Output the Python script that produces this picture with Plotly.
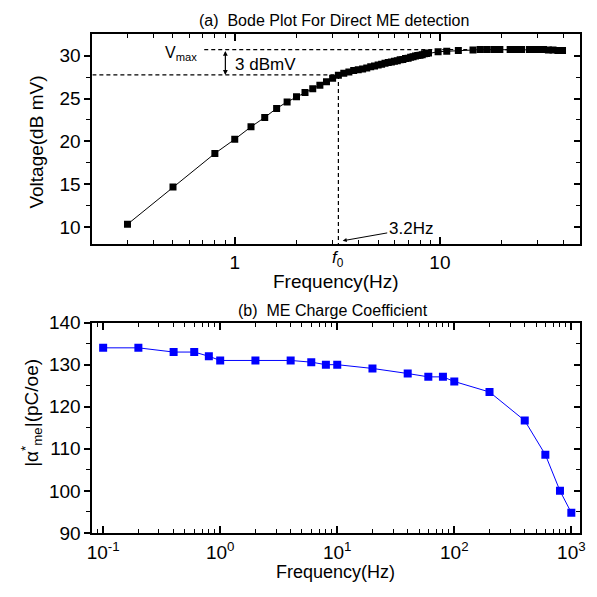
import math
import plotly.graph_objects as go

W = H = 597

# ---------------- data ----------------
# (a) Bode plot for direct ME detection
freq_a = [0.3, 0.5, 0.8, 1.0, 1.2, 1.4, 1.6, 1.8, 2.0, 2.2, 2.4, 2.6, 2.8, 3.0,
          3.2, 3.4, 3.6, 3.8, 4.0, 4.2, 4.4, 4.6, 4.8, 5.0, 5.2, 5.4, 5.6, 5.8,
          6.0, 6.2, 6.4, 6.6, 6.8, 7.0, 7.2, 7.4, 7.6, 7.8, 8.0, 8.2, 8.4, 8.6,
          8.8, 9.8, 10.8, 12.3, 14.5, 15.7, 16.9, 18.3, 19.6, 22, 23, 24, 25,
          27.3, 28.8, 30.4, 32, 33.8, 35.6, 37.6, 39.6]
volt_a = [10.35, 14.7, 18.6, 20.25, 21.7, 22.8, 23.85, 24.6, 25.2, 25.7, 26.15,
          26.55, 26.95, 27.35, 27.7, 27.95, 28.1, 28.25, 28.35, 28.45, 28.55,
          28.7, 28.8, 28.9, 29.0, 29.1, 29.2, 29.25, 29.35, 29.4, 29.5, 29.55,
          29.65, 29.7, 29.8, 29.85, 29.95, 30.0, 30.05, 30.1, 30.2, 30.25, 30.3,
          30.45, 30.5, 30.6, 30.65, 30.7, 30.7, 30.7, 30.7, 30.7, 30.7, 30.7,
          30.7, 30.7, 30.7, 30.7, 30.7, 30.65, 30.65, 30.6, 30.6]

v_max = 30.7          # dashed Vmax level
v_3db = 27.75         # Vmax - 3 dB level
f0 = 3.2              # corner frequency (Hz)
vmax_line_from = 0.71 # where Vmax dashed line starts (Hz)
dbl_arrow_f = 0.9     # frequency of the 3 dBmV double arrow

# (b) ME charge coefficient
freq_b = [0.1, 0.2, 0.4, 0.6, 0.8, 1, 2, 4, 6, 8, 10, 20, 40, 60, 80, 100,
          200, 400, 600, 800, 1000]
alpha_b = [134.0, 134.0, 133.0, 133.0, 132.0, 131.0, 131.0, 131.0, 130.6,
           130.0, 130.0, 129.1, 127.9, 127.1, 127.1, 126.0, 123.5, 116.7,
           108.6, 100.0, 94.8]

ticks_a_x = [1, 10]
ticks_a_x_text = ["1", "10"]
minor_a_x = [0.3, 0.4, 0.5, 0.6, 0.7, 0.8, 0.9, 2, 3, 4, 5, 6, 7, 8, 9, 20, 30, 40]
ticks_a_y = [10, 15, 20, 25, 30]
minor_a_y = [12.5, 17.5, 22.5, 27.5]

ticks_b_x = [0.1, 1, 10, 100, 1000]
ticks_b_x_text = ["10<sup>-1</sup>", "10<sup>0</sup>", "10<sup>1</sup>",
                  "10<sup>2</sup>", "10<sup>3</sup>"]
minor_b_x = [0.09] + [m * d for d in (0.1, 1, 10, 100) for m in range(2, 10)]
ticks_b_y = [90, 100, 110, 120, 130, 140]
minor_b_y = [95, 105, 115, 125, 135]

# ---------------- layout helpers ----------------
def fx(p):
    return p / W

def fy(p):
    return 1 - p / H

FONT = "Arial, Liberation Sans, sans-serif"
xdom = [fx(88), fx(585)]
dom_a = [fy(243), fy(25)]
dom_b = [fy(542), fy(324)]
range_a_x = [-0.694, 1.684]
range_a_y = [8, 32.5]
range_b_x = [-1.092, 3.076]
range_b_y = [90, 140]

fig = go.Figure()

fig.add_trace(go.Scatter(
    x=freq_a, y=volt_a, mode="lines+markers", xaxis="x", yaxis="y",
    line=dict(color="black", width=1),
    marker=dict(symbol="square", size=7, color="black"),
    showlegend=False, hoverinfo="skip"))

dash = dict(color="black", width=1.2, dash="4px,3px")
fig.add_trace(go.Scatter(x=[vmax_line_from, max(freq_a)], y=[v_max, v_max],
                         mode="lines", line=dash, xaxis="x", yaxis="y",
                         showlegend=False, hoverinfo="skip"))
fig.add_trace(go.Scatter(x=[10 ** range_a_x[0], f0], y=[v_3db, v_3db],
                         mode="lines", line=dash, xaxis="x", yaxis="y",
                         showlegend=False, hoverinfo="skip"))
fig.add_trace(go.Scatter(x=[f0, f0], y=[v_3db, range_a_y[0]],
                         mode="lines", line=dash, xaxis="x", yaxis="y",
                         showlegend=False, hoverinfo="skip"))

fig.add_trace(go.Scatter(
    x=freq_b, y=alpha_b, mode="lines+markers", xaxis="x2", yaxis="y2",
    line=dict(color="#0000ff", width=1),
    marker=dict(symbol="square", size=8, color="#0000ff"),
    showlegend=False, hoverinfo="skip"))

# invisible traces so the right-side (inside tick) axes are drawn
fig.add_trace(go.Scatter(x=freq_a, y=volt_a, xaxis="x", yaxis="y3", mode="markers",
                         marker=dict(opacity=0), showlegend=False, hoverinfo="skip"))
fig.add_trace(go.Scatter(x=freq_b, y=alpha_b, xaxis="x2", yaxis="y4", mode="markers",
                         marker=dict(opacity=0), showlegend=False, hoverinfo="skip"))

tickfont = dict(family=FONT, size=19, color="black")
axis_common = dict(showgrid=False, zeroline=False, showline=True, linewidth=2,
                   linecolor="black", tickcolor="black", tickfont=tickfont,
                   tickwidth=1.5)

fig.update_layout(
    width=W, height=H, margin=dict(l=0, r=0, t=0, b=0),
    paper_bgcolor="white", plot_bgcolor="white",
    font=dict(family=FONT, color="black"),
    xaxis=dict(type="log", range=range_a_x, domain=xdom, anchor="y",
               tickmode="array", tickvals=ticks_a_x, ticktext=ticks_a_x_text,
               ticks="inside", ticklen=7, mirror="ticks",
               minor=dict(tickvals=minor_a_x, ticks="inside", ticklen=4,
                          tickwidth=1.2, tickcolor="black"),
               **axis_common),
    yaxis=dict(range=range_a_y, domain=dom_a, anchor="x",
               tickmode="array", tickvals=ticks_a_y,
               ticks="outside", ticklen=6, mirror=True,
               minor=dict(tickvals=minor_a_y, ticks="outside", ticklen=4,
                          tickwidth=1.2, tickcolor="black"),
               **axis_common),
    yaxis3=dict(range=range_a_y, overlaying="y", side="right", anchor="x",
                tickmode="array", tickvals=ticks_a_y, showticklabels=False,
                ticks="inside", ticklen=6, showgrid=False, zeroline=False,
                showline=False, tickcolor="black", tickwidth=1.5,
                minor=dict(tickvals=minor_a_y, ticks="inside", ticklen=4,
                           tickwidth=1.2, tickcolor="black")),
    xaxis2=dict(type="log", range=range_b_x, domain=xdom, anchor="y2",
                tickmode="array", tickvals=ticks_b_x, ticktext=ticks_b_x_text,
                ticks="inside", ticklen=7, mirror="ticks", ticklabelstandoff=1,
                minor=dict(tickvals=minor_b_x, ticks="inside", ticklen=4,
                           tickwidth=1.2, tickcolor="black"),
                **axis_common),
    yaxis2=dict(range=range_b_y, domain=dom_b, anchor="x2",
                tickmode="array", tickvals=ticks_b_y,
                ticks="outside", ticklen=6, mirror=True,
                minor=dict(tickvals=minor_b_y, ticks="outside", ticklen=4,
                           tickwidth=1.2, tickcolor="black"),
                **axis_common),
    yaxis4=dict(range=range_b_y, overlaying="y2", side="right", anchor="x2",
                tickmode="array", tickvals=ticks_b_y, showticklabels=False,
                ticks="inside", ticklen=6, showgrid=False, zeroline=False,
                showline=False, tickcolor="black", tickwidth=1.5,
                minor=dict(tickvals=minor_b_y, ticks="inside", ticklen=4,
                           tickwidth=1.2, tickcolor="black")),
)

def txt(text, x, y, size=18, angle=0, xanchor="center", yanchor="middle"):
    fig.add_annotation(text=text, x=fx(x), y=fy(y), xref="paper", yref="paper",
                       showarrow=False, textangle=angle, xanchor=xanchor,
                       yanchor=yanchor, font=dict(family=FONT, size=size, color="black"))

txt("(a)\u00a0 Bode Plot For Direct ME detection", 334, 11, size=16)
txt("(b)\u00a0 ME Charge Coefficient", 333, 311, size=16)
txt("Frequency(Hz)", 336, 281, size=19)
txt("Frequency(Hz)", 336, 583, size=18)
txt("Voltage(dB mV)", 31, 137, size=19, angle=-90)
txt("|α<sup>*</sup><sub>me</sub>|(pC/oe)", 26, 418, size=19, angle=-90)
txt("V<sub>max</sub>", 178, 45, size=16)
txt("3 dBmV", 264, 57, size=17)

# f0 tick label (on the frequency axis of panel a)
fig.add_annotation(text="<i>f</i><sub>0</sub>", x=math.log10(f0), xref="x",
                   y=fy(245), yref="paper", yanchor="top", showarrow=False,
                   font=dict(family=FONT, size=17, color="black"))

# 3 dBmV double-headed arrow
fig.add_annotation(x=math.log10(dbl_arrow_f), y=v_3db, xref="x", yref="y",
                   ax=math.log10(dbl_arrow_f), ay=v_max, axref="x", ayref="y",
                   text="", showarrow=True, arrowhead=2, arrowside="end+start",
                   arrowsize=0.8, arrowwidth=1.2, arrowcolor="black")

# 3.2Hz pointer
fig.add_annotation(x=math.log10(3.36), y=8.43, xref="x", yref="y",
                   ax=68, ay=-12, text="3.2Hz", showarrow=True, arrowhead=2,
                   arrowsize=0.8, arrowwidth=1, arrowcolor="black",
                   font=dict(family=FONT, size=17, color="black"))

fig.write_html("out.html", config={"displayModeBar": False},
               post_script="document.body.style.margin='0';document.body.style.padding='0';")
